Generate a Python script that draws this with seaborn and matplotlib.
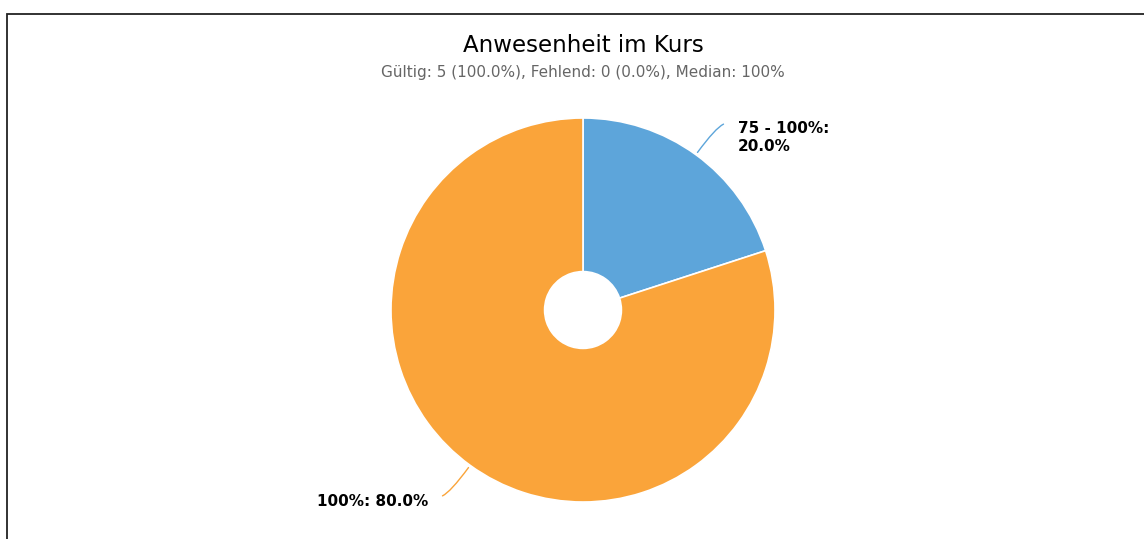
import numpy as np
import matplotlib
matplotlib.use("Agg")
import matplotlib.pyplot as plt
import seaborn as sns
from matplotlib.patches import Rectangle

# data
categories = ["75 - 100%", "100%"]
counts = [1, 4]
colors = ["#5DA5DA", "#FAA43A"]

title = "Anwesenheit im Kurs"
subtitle = "Gültig: 5 (100.0%), Fehlend: 0 (0.0%), Median: 100%"

sns.set_theme(style="white")
plt.rcParams['font.family'] = ['DejaVu Sans']

W, H = 1144, 539
fig = plt.figure(figsize=(W / 100, H / 100), dpi=100)

# axes placed so the pie centre sits at (583, 310) px with radius 192 px
cx, cy, r_px = 583, 310, 192
span = 1.5
ax_w = 2 * span * r_px
ax = fig.add_axes([(cx - ax_w / 2) / W, (H - cy - ax_w / 2) / H, ax_w / W, ax_w / H])

wedges, _ = ax.pie(counts, colors=colors, startangle=90, counterclock=False,
                   radius=1.0, wedgeprops=dict(width=0.8, edgecolor="white", linewidth=1.2))
ax.set_xlim(-span, span)
ax.set_ylim(-span, span)
ax.set_aspect("equal")
ax.axis("off")

total = sum(counts)
for w, cat, n, col in zip(wedges, categories, counts, colors):
    mid = (w.theta1 + w.theta2) / 2
    ang = np.deg2rad(mid)
    x0, y0 = np.cos(ang), np.sin(ang)
    end = np.deg2rad(mid - 1.5)
    x1, y1 = 1.225 * np.cos(end), 1.225 * np.sin(end)
    # leader line: runs out along the radius, then hooks to horizontal
    ax.annotate("", xy=(x1, y1), xytext=(x0, y0),
                arrowprops=dict(arrowstyle="-", color=col, lw=1,
                                connectionstyle=f"angle3,angleA={mid:.1f},angleB=0"))
    pct = 100 * n / total
    if x0 > 0:
        ax.text(x1 + 0.06, y1 + 0.015, f"{cat}:\n{pct:.1f}%", ha="left", va="top",
                fontsize=11, fontweight="bold", color="black", linespacing=1.25)
    else:
        ax.text(x1 - 0.06, y1 - 0.028, f"{cat}: {pct:.1f}%", ha="right", va="center",
                fontsize=11, fontweight="bold", color="black")

fig.text(cx / W, 1 - 46 / H, title, ha="center", va="center", fontsize=16.5, color="black")
fig.text(cx / W, 1 - 73 / H, subtitle, ha="center", va="center", fontsize=11, color="#666666")

# frame around the chart area (cut at right and bottom)
fig.patches.append(Rectangle((7 / W, -0.1), 1.2, (H - 14) / H + 0.1, transform=fig.transFigure,
                             fill=False, edgecolor="#222222", linewidth=1.3))

fig.savefig("out.png", dpi=100, facecolor="white")
